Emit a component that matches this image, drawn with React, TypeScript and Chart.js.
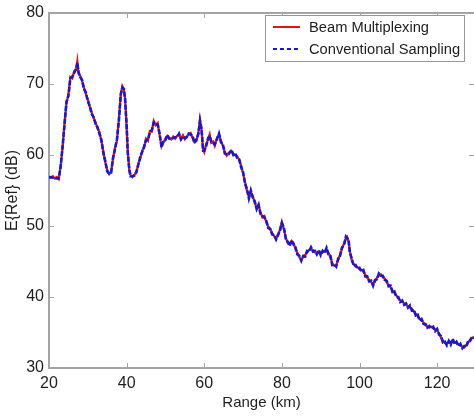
import React, { useEffect, useRef } from "react";
import { Chart, registerables } from "chart.js";

Chart.register(...registerables);

const rangeKm = [
  20.0, 20.5, 21.0, 21.5, 22.0, 22.5, 23.0, 23.5, 24.0, 24.5, 25.0, 25.5, 26.0, 26.5, 27.0, 27.3, 27.6, 28.0, 28.5, 29.0,
  29.5, 30.0, 30.5, 31.0, 31.5, 32.0, 32.5, 33.0, 33.5, 34.0, 34.5, 35.0, 35.5, 36.0, 36.5, 37.0, 37.5, 38.0, 38.5, 38.9,
  39.3, 39.6, 40.0, 40.3, 40.7, 41.0, 41.5, 42.0, 42.5, 43.0, 43.5, 44.0, 44.5, 45.0, 45.5, 46.0, 46.5, 47.0, 47.5, 48.0,
  48.5, 49.0, 49.5, 50.0, 50.5, 51.0, 51.5, 52.0, 52.5, 53.0, 53.5, 54.0, 54.5, 55.0, 55.5, 56.0, 56.5, 57.0, 57.5, 58.0,
  58.5, 58.9, 59.3, 59.7, 60.0, 60.5, 61.0, 61.4, 61.8, 62.3, 62.7, 63.2, 63.8, 64.3, 64.8, 65.3, 65.8, 66.3, 67.0, 67.5,
  68.0, 68.5, 69.0, 69.5, 70.0, 70.5, 71.0, 71.5, 72.0, 72.5, 73.0, 73.5, 74.0, 74.5, 75.0, 75.5, 76.0, 76.5, 77.0, 77.5,
  78.0, 78.5, 79.0, 79.5, 80.0, 80.5, 81.0, 81.5, 82.0, 82.5, 83.0, 83.5, 84.0, 84.5, 85.0, 85.5, 86.0, 86.5, 87.0, 87.5,
  88.0, 88.5, 89.0, 89.5, 90.0, 90.5, 91.0, 91.5, 92.0, 92.5, 93.0, 93.5, 94.0, 94.5, 95.0, 95.5, 96.0, 96.5, 96.8, 97.2,
  97.5, 98.0, 98.5, 99.0, 99.5, 100.0, 100.5, 101.0, 101.5, 102.0, 102.5, 103.0, 103.5, 104.0, 104.5, 105.0, 105.5, 106.0, 106.5, 107.0,
  107.5, 108.0, 108.5, 109.0, 109.5, 110.0, 110.5, 111.0, 111.5, 112.0, 112.5, 113.0, 113.5, 114.0, 114.5, 115.0, 115.5, 116.0, 116.5, 117.0,
  117.5, 118.0, 118.5, 119.0, 119.5, 120.0, 120.5, 121.0, 121.5, 122.0, 122.5, 123.0, 123.5, 124.0, 124.5, 125.0, 125.5, 126.0, 126.5, 127.0,
  127.5, 128.0, 128.5, 129.0, 129.5,
];

const beamMultiplexing = [
  57.0, 56.8, 57.0, 56.7, 56.9, 56.6, 58.5, 61.0, 64.5, 67.3, 68.5, 71.0, 70.8, 71.8, 72.0, 73.2, 71.5, 71.2, 70.5, 69.5,
  68.6, 67.8, 66.8, 66.0, 65.2, 64.6, 63.8, 63.2, 62.0, 60.5, 59.0, 57.9, 57.3, 57.6, 59.5, 61.0, 62.0, 65.0, 68.5, 69.7,
  69.2, 68.0, 64.0, 60.5, 57.8, 57.2, 56.9, 57.2, 57.5, 58.8, 59.5, 60.6, 61.0, 62.3, 62.0, 63.4, 63.3, 64.8, 64.2, 64.5,
  62.8, 61.2, 61.8, 62.3, 62.7, 62.4, 62.2, 62.6, 62.3, 62.7, 62.9, 62.3, 62.8, 62.2, 62.6, 62.9, 63.1, 62.4, 61.8, 62.0,
  63.2, 65.0, 63.5, 60.8, 60.4, 61.5, 62.2, 62.9, 61.7, 61.9, 61.3, 62.3, 62.9, 62.0, 61.3, 60.4, 59.9, 60.3, 60.6, 60.2,
  60.0, 59.8, 59.3, 58.5, 57.4, 56.2, 55.0, 54.1, 54.8, 54.2, 53.3, 52.6, 52.9, 51.9, 51.2, 51.4, 50.5, 49.9, 49.5, 49.0,
  48.6, 48.3, 48.6, 49.5, 50.6, 49.6, 48.4, 47.6, 47.4, 47.9, 47.6, 46.8, 46.2, 45.6, 45.3, 45.6, 45.9, 46.3, 46.6, 46.8,
  46.6, 46.3, 46.2, 46.4, 46.1, 46.3, 46.4, 46.7, 46.2, 45.6, 44.7, 44.4, 44.5, 45.2, 46.0, 46.8, 47.5, 48.3, 48.5, 47.8,
  46.5, 45.2, 44.6, 44.3, 44.2, 43.9, 43.8, 43.6, 43.1, 42.7, 42.4, 42.1, 41.8, 42.2, 42.7, 43.1, 43.2, 42.8, 42.6, 42.1,
  41.7, 41.4, 40.9, 40.6, 40.2, 39.8, 39.5, 39.3, 39.1, 38.9, 38.7, 38.6, 38.3, 38.0, 37.6, 37.3, 36.9, 36.7, 36.4, 36.0,
  35.9, 35.7, 35.8, 35.6, 35.4, 35.3, 34.9, 34.3, 33.8, 33.5, 33.4, 33.6, 33.5, 33.9, 33.6, 33.5, 33.3, 33.2, 33.0, 32.9,
  33.2, 33.6, 34.0, 34.2, 34.4,
];

const conventionalSampling = [
  56.8, 56.9, 56.8, 56.8, 56.7, 56.7, 58.3, 61.2, 64.3, 67.5, 68.3, 70.8, 71.0, 71.6, 72.2, 73.0, 71.7, 71.0, 70.6, 69.3,
  68.8, 67.6, 66.9, 65.8, 65.3, 64.4, 63.9, 63.0, 62.1, 60.3, 59.1, 57.7, 57.4, 57.5, 59.6, 60.8, 62.2, 64.8, 68.6, 69.5,
  69.3, 67.8, 64.2, 60.3, 57.9, 57.0, 57.0, 57.1, 57.6, 58.6, 59.7, 60.4, 61.2, 62.1, 62.2, 63.2, 63.5, 64.6, 64.4, 64.3,
  63.0, 61.1, 62.0, 62.1, 62.8, 62.3, 62.3, 62.4, 62.5, 62.5, 63.0, 62.2, 62.6, 62.4, 62.5, 63.0, 62.9, 62.6, 61.7, 62.2,
  63.0, 64.8, 63.7, 60.6, 60.6, 61.3, 62.4, 62.7, 61.9, 61.7, 61.5, 62.1, 63.0, 61.8, 61.5, 60.2, 60.1, 60.1, 60.7, 60.0,
  60.2, 59.6, 59.4, 58.3, 57.6, 56.0, 55.2, 53.9, 55.0, 54.0, 53.5, 52.4, 53.0, 51.7, 51.4, 51.2, 50.7, 49.7, 49.6, 48.8,
  48.7, 48.1, 48.8, 49.3, 50.4, 49.8, 48.2, 47.8, 47.2, 48.0, 47.4, 47.0, 46.0, 45.8, 45.1, 45.8, 45.7, 46.5, 46.4, 47.0,
  46.4, 46.5, 46.0, 46.6, 45.9, 46.5, 46.2, 46.9, 46.0, 45.8, 44.5, 44.6, 44.3, 45.4, 45.8, 47.0, 47.3, 48.5, 48.3, 48.0,
  46.3, 45.4, 44.4, 44.5, 44.0, 44.1, 43.6, 43.8, 42.9, 42.9, 42.2, 42.3, 41.6, 42.4, 42.5, 43.3, 43.0, 43.0, 42.4, 42.3,
  41.5, 41.6, 40.7, 40.8, 40.0, 40.0, 39.3, 39.5, 38.9, 39.1, 38.5, 38.8, 38.1, 38.2, 37.4, 37.5, 36.7, 36.9, 36.2, 36.2,
  35.7, 35.9, 35.6, 35.8, 35.2, 35.5, 34.7, 34.5, 33.6, 33.7, 33.2, 33.8, 33.3, 34.1, 33.4, 33.7, 33.1, 33.4, 32.8, 33.1,
  33.0, 33.8, 33.8, 34.4, 34.2,
];

const seriesLabels = ["Beam Multiplexing", "Conventional Sampling"];
const xTicks = [20, 40, 60, 80, 100, 120];
const yTicks = [30, 40, 50, 60, 70, 80];
const xTitle = "Range (km)";
const yTitle = "E{Ref} (dB)";

const FONT = '"Liberation Sans", Arial, Helvetica, sans-serif';
const AXIS_GREY = "rgb(165,165,165)";
const TEXT = "#1e1e1e";
const RED = "rgb(225,20,20)";
const BLUE = "rgb(25,25,200)";

const framePlugin = {
  id: "matlabFrame",
  afterDraw(chart: any) {
    const { ctx, chartArea } = chart;
    const xs = chart.scales.x;
    const ys = chart.scales.y;
    const { left, right, top, bottom } = chartArea;
    ctx.save();
    ctx.strokeStyle = AXIS_GREY;
    ctx.lineWidth = 2;
    ctx.beginPath();
    ctx.moveTo(left, top);
    ctx.lineTo(right + 2, top);
    ctx.stroke();
    ctx.lineWidth = 1;
    ctx.beginPath();
    for (const v of xTicks) {
      const px = Math.round(xs.getPixelForValue(v)) + 0.5;
      ctx.moveTo(px, bottom);
      ctx.lineTo(px, bottom - 5);
      ctx.moveTo(px, top);
      ctx.lineTo(px, top + 5);
    }
    for (const v of yTicks) {
      const py = Math.round(ys.getPixelForValue(v)) + 0.5;
      ctx.moveTo(left, py);
      ctx.lineTo(left + 5, py);
      ctx.moveTo(right, py);
      ctx.lineTo(right - 5, py);
    }
    ctx.stroke();

    // boxed legend (MATLAB style)
    const bx = 265.5, by = 15.5, bw = 199, bh = 46;
    ctx.fillStyle = "#ffffff";
    ctx.fillRect(bx, by, bw, bh);
    ctx.strokeStyle = "rgb(150,150,150)";
    ctx.lineWidth = 1;
    ctx.strokeRect(bx, by, bw, bh);
    const rows = [27, 49];
    chart.data.datasets.forEach((ds: any, i: number) => {
      const y = rows[i];
      ctx.strokeStyle = ds.borderColor;
      ctx.lineWidth = 2;
      ctx.setLineDash(ds.borderDash ? [4, 3] : []);
      ctx.beginPath();
      ctx.moveTo(273, y);
      ctx.lineTo(300, y);
      ctx.stroke();
      ctx.setLineDash([]);
      ctx.fillStyle = TEXT;
      ctx.font = `14.7px ${FONT}`;
      ctx.textAlign = "left";
      ctx.textBaseline = "middle";
      ctx.fillText(ds.label, 309, y + 1);
    });
    ctx.restore();
  },
};

export default function App() {
  const canvasRef = useRef<HTMLCanvasElement | null>(null);

  useEffect(() => {
    document.body.style.margin = "0";
    const canvas = canvasRef.current;
    if (!canvas) return;
    const chart = new Chart(canvas, {
      type: "line",
      data: {
        datasets: [
          {
            label: seriesLabels[0],
            data: rangeKm.map((x, i) => ({ x, y: beamMultiplexing[i] })),
            borderColor: RED,
            borderWidth: 2.2,
            pointRadius: 0,
            tension: 0,
            fill: false,
            order: 2,
          },
          {
            label: seriesLabels[1],
            data: rangeKm.map((x, i) => ({ x, y: conventionalSampling[i] })),
            borderColor: BLUE,
            borderWidth: 2.6,
            borderDash: [5, 1.5],
            pointRadius: 0,
            tension: 0,
            fill: false,
            order: 1,
          },
        ],
      },
      options: {
        responsive: false,
        animation: false,
        layout: { padding: { top: 9, right: 0, left: 0, bottom: 0 } },
        plugins: {
          legend: { display: false },
          tooltip: { enabled: false },
        },
        scales: {
          x: {
            type: "linear",
            min: 20,
            max: 129.5,
            grid: { display: false, drawTicks: false },
            border: { display: true, color: AXIS_GREY, width: 2 },
            afterBuildTicks: (s: any) => {
              s.ticks = xTicks.map((v) => ({ value: v }));
            },
            afterFit: (s: any) => {
              s.height = 51;
            },
            ticks: {
              color: TEXT,
              font: { family: FONT, size: 16, lineHeight: 1 },
              padding: 8,
              maxRotation: 0,
              autoSkip: false,
            },
            title: {
              display: true,
              text: xTitle,
              color: TEXT,
              font: { family: FONT, size: 15, lineHeight: 1 },
              padding: { top: 0, bottom: 9 },
            },
          },
          y: {
            type: "linear",
            min: 30,
            max: 80,
            grid: { display: false, drawTicks: false },
            border: { display: true, color: AXIS_GREY, width: 2 },
            afterBuildTicks: (s: any) => {
              s.ticks = yTicks.map((v) => ({ value: v }));
            },
            afterFit: (s: any) => {
              s.width = 49;
            },
            ticks: {
              color: TEXT,
              font: { family: FONT, size: 16, lineHeight: 1 },
              padding: 5,
              autoSkip: false,
            },
            title: {
              display: true,
              text: yTitle,
              color: TEXT,
              font: { family: FONT, size: 16, lineHeight: 1 },
              padding: { top: 5, bottom: 0 },
            },
          },
        },
      },
      plugins: [framePlugin],
    });
    return () => chart.destroy();
  }, []);

  return (
    <div style={{ width: 474, height: 419, background: "#fff" }}>
      <canvas ref={canvasRef} width={474} height={419} style={{ display: "block" }} />
    </div>
  );
}
